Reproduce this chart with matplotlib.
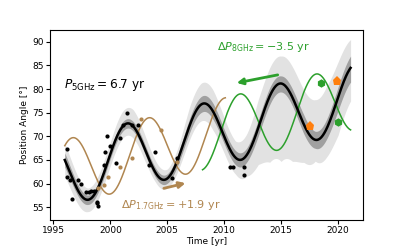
import numpy as np
import matplotlib
matplotlib.use("Agg")
import matplotlib.pyplot as plt

# ---------------- data ----------------
# sinusoidal model (5 GHz)
period_5ghz = 6.7          # yr (label)
shift_17ghz = 1.9          # yr (label)
shift_8ghz = -3.5          # yr (label)
model_offset = 64.8        # deg at 2000
model_slope = 0.63         # deg / yr
model_amp = 7.0            # deg
model_peak = 2001.45       # epoch of a cosine maximum
model_span = [1996.0, 2021.1]
brown_span = [1996.0, 2010.1]
green_span = [2008.1, 2021.1]

# uncertainty band offsets (deg, relative to model) at given years
band_years = [1996, 1997, 1998, 1999, 2000, 2001, 2002, 2003, 2004, 2005, 2006,
              2007, 2008, 2009, 2010, 2011, 2012, 2013, 2014, 2015, 2016, 2017,
              2018, 2019, 2020, 2021.1]
light_up = [3.5, 3.0, 2.5, 2.5, 2.5, 3.2, 3.5, 3.0, 2.5, 2.0, 2.5,
            4.0, 4.5, 4.5, 4.0, 3.5, 4.5, 6.0, 6.0, 5.8, 6.5, 7.3,
            8.5, 9.0, 7.5, 6.0]
light_dn = [3.5, 3.0, 2.5, 2.5, 2.5, 2.5, 2.5, 2.5, 2.0, 2.0, 2.5,
            3.0, 3.5, 4.0, 3.5, 3.5, 4.5, 7.8, 14.0, 16.5, 13.5, 8.0,
            4.5, 6.0, 8.0, 7.0]
dark_up = [1.5, 1.2, 1.0, 1.0, 1.0, 1.0, 1.0, 1.0, 1.0, 1.0, 1.2,
           1.5, 1.7, 1.7, 1.5, 1.5, 1.5, 1.7, 1.8, 1.6, 1.8, 2.0,
           1.8, 2.0, 2.2, 2.5]
dark_dn = [1.5, 1.2, 1.0, 1.0, 1.0, 1.0, 1.0, 1.0, 1.0, 1.0, 1.2,
           1.5, 1.7, 1.7, 1.5, 1.5, 1.5, 1.7, 1.8, 1.8, 1.8, 2.0,
           1.8, 2.2, 2.8, 3.0]

# 5 GHz observations
obs5_year = [1996.18, 1996.22, 1996.47, 1996.62, 1997.12, 1997.42, 1997.88, 1998.09,
             1998.30, 1998.53, 1998.83, 1998.86, 1998.88, 1999.47, 1999.50, 1999.71,
             1999.93, 2000.50, 2000.85, 2001.10, 2001.50, 2001.90, 2002.40, 2003.40,
             2003.88, 2005.44, 2005.85, 2010.52, 2010.78, 2011.70, 2011.75]
obs5_pa = [67.3, 61.4, 60.8, 56.8, 60.8, 59.9, 58.2, 58.3,
           58.5, 58.5, 56.2, 55.8, 55.3, 63.9, 66.7, 70.0,
           68.0, 64.3, 69.6, 72.4, 74.9, 72.3, 72.5, 63.9,
           66.6, 61.1, 65.5, 63.5, 63.6, 63.6, 61.8]
# 1.7 GHz observations
obs17_year = [1998.88, 1999.41, 1999.76, 2000.82, 2001.90, 2002.70, 2004.41, 2005.88]
obs17_pa = [59.0, 59.7, 61.5, 63.6, 65.5, 73.6, 71.4, 64.6]
# 8 GHz observations
obs8_year = [2018.50, 2019.99]
obs8_pa = [81.3, 73.0]
# 15 GHz observations
obs15_year = [2017.57, 2019.93]
obs15_pa = [72.1, 81.8]

# arrows (tail, head) in data units
arrow8 = [(2014.7, 83.0), (2011.1, 81.3)]
arrow17 = [(2004.7, 59.0), (2006.6, 60.1)]

x_ticks = [1995, 2000, 2005, 2010, 2015, 2020]
y_ticks = [55, 60, 65, 70, 75, 80, 85, 90]

# ---------------- drawing ----------------
c_brown = "#b08650"
c_green = "#2ca02c"
c_orange = "#ff7f0e"


def model(t, shift=0.0):
    t = np.asarray(t)
    return (model_offset + model_slope * (t - 2000.0)
            + model_amp * np.cos(2 * np.pi * (t - shift - model_peak) / period_5ghz))


fig = plt.figure(figsize=(4.03, 2.52), dpi=100)
ax = fig.add_axes([0.124, 0.127, 0.777, 0.754])

t = np.linspace(model_span[0], model_span[1], 800)
m = model(t)
lu = np.interp(t, band_years, light_up)
ld = np.interp(t, band_years, light_dn)
du = np.interp(t, band_years, dark_up)
dd = np.interp(t, band_years, dark_dn)
ax.fill_between(t, m - ld, m + lu, color="#e2e2e2", lw=0, zorder=1)
ax.fill_between(t, m - dd, m + du, color="#a0a0a0", lw=0, zorder=2)

tb = np.linspace(brown_span[0], brown_span[1], 500)
ax.plot(tb, model(tb, shift_17ghz), color=c_brown, lw=1.1, zorder=3)
tg = np.linspace(green_span[0], green_span[1], 500)
ax.plot(tg, model(tg, shift_8ghz), color=c_green, lw=1.1, zorder=3)

ax.plot(t, m, color="black", lw=1.8, zorder=4)

ax.plot(obs5_year, obs5_pa, "o", color="black", ms=3, mew=0, zorder=6)
ax.plot(obs17_year, obs17_pa, "o", color=c_brown, ms=3, mew=0, zorder=6)
ax.plot(obs8_year, obs8_pa, "h", color=c_green, ms=6, mew=0, zorder=6)
ax.plot(obs15_year, obs15_pa, "p", color=c_orange, ms=6.5, mew=0, zorder=6)

ax.annotate("", xy=arrow8[1], xytext=arrow8[0],
            arrowprops=dict(arrowstyle="-|>", color=c_green, lw=2,
                            mutation_scale=9, shrinkA=0, shrinkB=0), zorder=7)
ax.annotate("", xy=arrow17[1], xytext=arrow17[0],
            arrowprops=dict(arrowstyle="-|>", color=c_brown, lw=2,
                            mutation_scale=9, shrinkA=0, shrinkB=0), zorder=7)

ax.text(1995.95, 80.8, r"$P_{\rm 5GHz} = 6.7$ yr", color="black",
        fontsize=8.7, va="center", ha="left")
ax.text(2009.35, 88.9, r"$\Delta P_{\rm 8GHz} = -3.5$ yr", color=c_green,
        fontsize=8, va="center", ha="left")
ax.text(2000.94, 55.5, r"$\Delta P_{\rm 1.7GHz} = +1.9$ yr", color=c_brown,
        fontsize=8, va="center", ha="left")

ax.set_xlim(1994.7, 2022.2)
ax.set_ylim(52.3, 92.5)
ax.set_xticks(x_ticks)
ax.set_yticks(y_ticks)
ax.tick_params(labelsize=6.5, length=3, width=0.8, pad=1.5)
ax.set_xlabel("Time [yr]", fontsize=6.5, labelpad=1)
ax.set_ylabel("Position Angle [°]", fontsize=6.5, labelpad=2)
for s in ax.spines.values():
    s.set_linewidth(0.8)

fig.savefig("out.png", dpi=100)
